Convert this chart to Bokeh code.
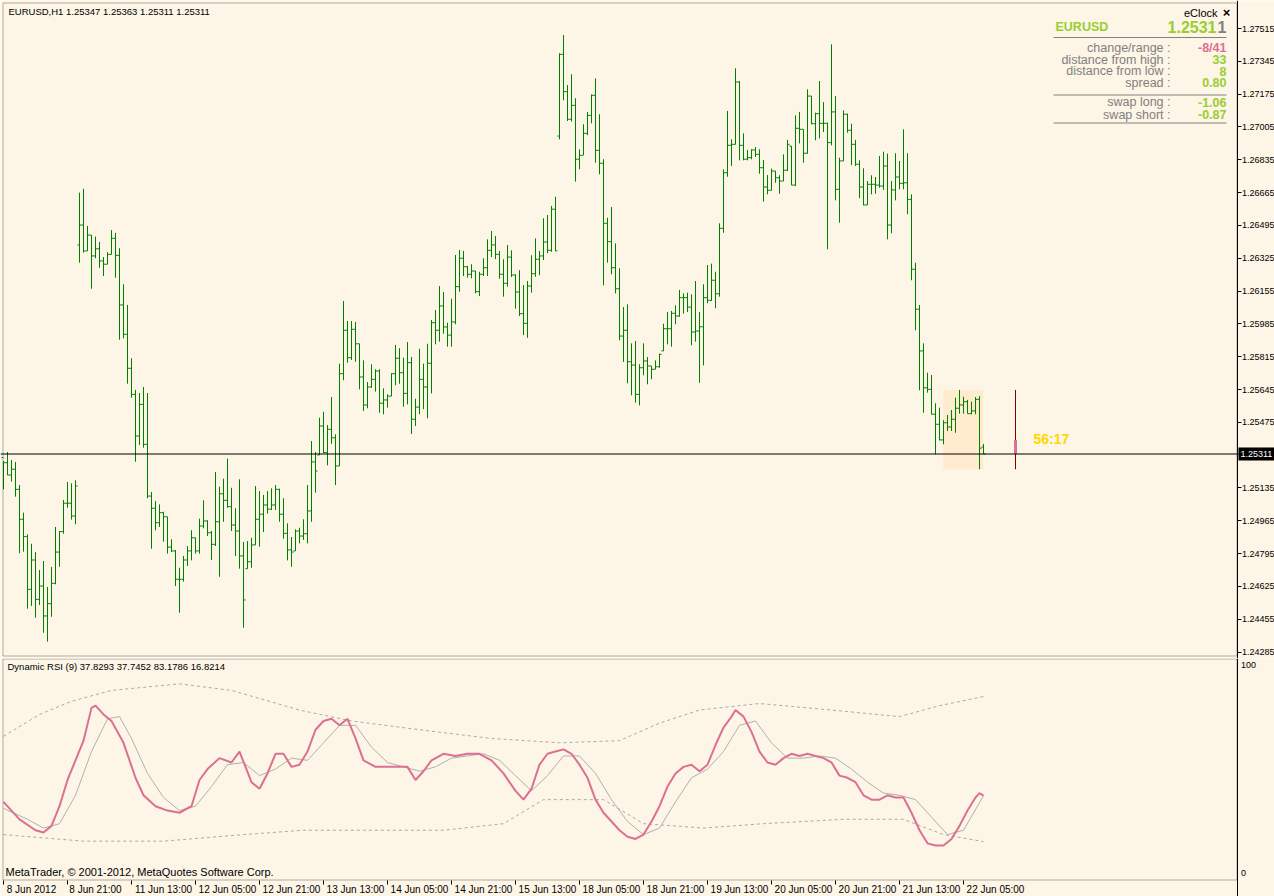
from bokeh.plotting import figure
from bokeh.models import (Range1d, LinearAxis, FixedTicker, Span, Label, BoxAnnotation,
                          ColumnDataSource, PrintfTickFormatter)
from bokeh.layouts import column
from bokeh.embed import file_html
from bokeh.resources import INLINE

# ---------------- data (EURUSD H1, bar index 0 = 8 Jun 2012 05:00) ----------------
OPEN = [
    1.25292, 1.25266, 1.25202, 1.25232, 1.25128, 1.24973, 1.24883, 1.24610, 1.24762, 1.24558,
    1.24627, 1.24472, 1.24536, 1.24641, 1.24803, 1.24909, 1.25056, 1.25056, 1.24990, 1.26394,
    1.26497, 1.26363, 1.26445, 1.26337, 1.26374, 1.26311, 1.26294, 1.26345, 1.26428, 1.26340,
    1.26083, 1.25931, 1.25755, 1.25620, 1.25404, 1.25568, 1.25361, 1.25093, 1.25030, 1.24955,
    1.25007, 1.24986, 1.24829, 1.24809, 1.24662, 1.24662, 1.24762, 1.24809, 1.24877, 1.24809,
    1.24938, 1.24964, 1.24903, 1.24843, 1.24960, 1.25105, 1.25071, 1.25038, 1.24943, 1.24912,
    1.24783, 1.24717, 1.24753, 1.24840, 1.24973, 1.24999, 1.25047, 1.25025, 1.25047, 1.25128,
    1.24999, 1.24900, 1.24814, 1.24809, 1.24912, 1.24886, 1.24898, 1.25016, 1.25270, 1.25306,
    1.25456, 1.25318, 1.25439, 1.25395, 1.25249, 1.25727, 1.25952, 1.25810, 1.25957, 1.25882,
    1.25710, 1.25565, 1.25658, 1.25698, 1.25741, 1.25574, 1.25591, 1.25611, 1.25727, 1.25807,
    1.25732, 1.25625, 1.25784, 1.25491, 1.25554, 1.25698, 1.25658, 1.25781, 1.25991, 1.25952,
    1.26078, 1.25969, 1.25927, 1.25995, 1.26178, 1.26325, 1.26281, 1.26242, 1.26259, 1.26152,
    1.26242, 1.26276, 1.26366, 1.26394, 1.26345, 1.26242, 1.26195, 1.26331, 1.26238, 1.26150,
    1.26038, 1.25988, 1.26181, 1.26245, 1.26320, 1.26337, 1.26409, 1.26366, 1.26579, 1.26958,
    1.27381, 1.27188, 1.27045, 1.27117, 1.26838, 1.26858, 1.26972, 1.27065, 1.27169, 1.26884,
    1.26817, 1.26506, 1.26411, 1.26276, 1.26167, 1.25922, 1.25952, 1.25789, 1.25772, 1.25620,
    1.25758, 1.25793, 1.25767, 1.25750, 1.25763, 1.25845, 1.25960, 1.25960, 1.26040, 1.26026,
    1.26121, 1.26121, 1.26072, 1.25943, 1.25948, 1.25970, 1.26121, 1.26107, 1.26211, 1.26141,
    1.26480, 1.26768, 1.26910, 1.26915, 1.27238, 1.26910, 1.26838, 1.26846, 1.26886, 1.26863,
    1.26794, 1.26694, 1.26677, 1.26777, 1.26742, 1.26725, 1.26781, 1.26906, 1.26704, 1.26998,
    1.26993, 1.26869, 1.27165, 1.27022, 1.27074, 1.27024, 1.27024, 1.26924, 1.27083, 1.26682,
    1.26829, 1.27071, 1.26988, 1.26915, 1.26812, 1.26694, 1.26601, 1.26708, 1.26708, 1.26704,
    1.26699, 1.26803, 1.26497, 1.26679, 1.26746, 1.26713, 1.26716, 1.26630, 1.26268, 1.26061,
    1.25845, 1.25654, 1.25646, 1.25517, 1.25465, 1.25384, 1.25473, 1.25451, 1.25491, 1.25548,
    1.25565, 1.25582, 1.25520, 1.25534, 1.25594, 1.25347,
]
HIGH = [
    1.25275, 1.25321, 1.25280, 1.25270, 1.25150, 1.25007, 1.24895, 1.24846, 1.24803, 1.24710,
    1.24757, 1.24622, 1.24726, 1.24933, 1.24912, 1.25073, 1.25166, 1.25159, 1.25175, 1.26665,
    1.26685, 1.26492, 1.26445, 1.26437, 1.26409, 1.26331, 1.26357, 1.26471, 1.26457, 1.26377,
    1.26190, 1.26083, 1.25807, 1.25643, 1.25627, 1.25658, 1.25627, 1.25114, 1.25068, 1.25050,
    1.25012, 1.24986, 1.24869, 1.24814, 1.24722, 1.24783, 1.24834, 1.24916, 1.24877, 1.24976,
    1.25071, 1.24968, 1.24912, 1.25218, 1.25142, 1.25183, 1.25287, 1.25136, 1.25030, 1.25180,
    1.24855, 1.24860, 1.24877, 1.25145, 1.25119, 1.25099, 1.25119, 1.25133, 1.25150, 1.25131,
    1.25082, 1.24952, 1.24881, 1.24921, 1.24929, 1.24973, 1.25150, 1.25378, 1.25321, 1.25499,
    1.25530, 1.25461, 1.25606, 1.25413, 1.25779, 1.26104, 1.26000, 1.26000, 1.25995, 1.25882,
    1.25796, 1.25684, 1.25776, 1.25750, 1.25750, 1.25651, 1.25620, 1.25729, 1.25876, 1.25859,
    1.25810, 1.25891, 1.25813, 1.25597, 1.25856, 1.25779, 1.25882, 1.26005, 1.26057, 1.26181,
    1.26150, 1.25991, 1.26115, 1.26342, 1.26368, 1.26363, 1.26285, 1.26294, 1.26259, 1.26255,
    1.26325, 1.26423, 1.26466, 1.26440, 1.26363, 1.26320, 1.26394, 1.26366, 1.26242, 1.26263,
    1.26186, 1.26207, 1.26340, 1.26428, 1.26363, 1.26532, 1.26549, 1.26596, 1.26644, 1.27387,
    1.27481, 1.27222, 1.27278, 1.27154, 1.26889, 1.27019, 1.27083, 1.27174, 1.27257, 1.27071,
    1.26838, 1.26535, 1.26590, 1.26402, 1.26273, 1.26072, 1.26086, 1.25884, 1.25896, 1.25776,
    1.25884, 1.25813, 1.25767, 1.25796, 1.25831, 1.25986, 1.26047, 1.26052, 1.26081, 1.26161,
    1.26143, 1.26147, 1.26138, 1.26207, 1.26047, 1.26190, 1.26290, 1.26297, 1.26255, 1.26506,
    1.26786, 1.27088, 1.26941, 1.27309, 1.27243, 1.26972, 1.26886, 1.26889, 1.26901, 1.26889,
    1.26834, 1.26756, 1.26789, 1.26777, 1.26755, 1.26863, 1.26938, 1.26906, 1.27065, 1.27083,
    1.26993, 1.27200, 1.27165, 1.27079, 1.27243, 1.27134, 1.27027, 1.27433, 1.27165, 1.26846,
    1.27091, 1.27074, 1.27022, 1.26938, 1.26832, 1.26791, 1.26725, 1.26755, 1.26746, 1.26855,
    1.26877, 1.26867, 1.26725, 1.26869, 1.26829, 1.26993, 1.26869, 1.26656, 1.26302, 1.26083,
    1.25884, 1.25732, 1.25720, 1.25574, 1.25551, 1.25486, 1.25513, 1.25539, 1.25603, 1.25643,
    1.25608, 1.25591, 1.25582, 1.25606, 1.25611, 1.25363,
]
LOW = [
    1.25128, 1.25202, 1.25168, 1.25090, 1.24797, 1.24805, 1.24510, 1.24524, 1.24463, 1.24529,
    1.24385, 1.24339, 1.24468, 1.24636, 1.24727, 1.24898, 1.25033, 1.24971, 1.24947, 1.26302,
    1.26354, 1.26363, 1.26167, 1.26325, 1.26276, 1.26233, 1.26294, 1.26345, 1.26224, 1.25903,
    1.25910, 1.25675, 1.25603, 1.25271, 1.25358, 1.25344, 1.25082, 1.24820, 1.24916, 1.24933,
    1.24857, 1.24795, 1.24803, 1.24627, 1.24489, 1.24650, 1.24731, 1.24760, 1.24795, 1.24795,
    1.24926, 1.24886, 1.24762, 1.24834, 1.24675, 1.24960, 1.25033, 1.24912, 1.24783, 1.24717,
    1.24411, 1.24717, 1.24722, 1.24840, 1.24831, 1.24907, 1.25002, 1.25021, 1.25021, 1.24960,
    1.24872, 1.24760, 1.24727, 1.24809, 1.24848, 1.24866, 1.24848, 1.24960, 1.25111, 1.25306,
    1.25315, 1.25252, 1.25364, 1.25150, 1.25249, 1.25693, 1.25784, 1.25798, 1.25789, 1.25646,
    1.25534, 1.25548, 1.25654, 1.25634, 1.25525, 1.25517, 1.25551, 1.25611, 1.25667, 1.25675,
    1.25556, 1.25568, 1.25415, 1.25456, 1.25517, 1.25543, 1.25496, 1.25625, 1.25879, 1.25893,
    1.25934, 1.25867, 1.25867, 1.25983, 1.26152, 1.26233, 1.26224, 1.26221, 1.26143, 1.26129,
    1.26233, 1.26233, 1.26331, 1.26320, 1.26219, 1.26126, 1.26178, 1.26228, 1.26064, 1.26026,
    1.25927, 1.25913, 1.26147, 1.26229, 1.26237, 1.26316, 1.26351, 1.26359, 1.26363, 1.26941,
    1.27143, 1.27036, 1.27033, 1.26722, 1.26786, 1.26860, 1.26963, 1.27024, 1.26820, 1.26760,
    1.26185, 1.26302, 1.26242, 1.26143, 1.25900, 1.25788, 1.25677, 1.25615, 1.25577, 1.25563,
    1.25719, 1.25672, 1.25698, 1.25750, 1.25758, 1.25845, 1.25879, 1.25867, 1.25983, 1.26022,
    1.26038, 1.26047, 1.25874, 1.25893, 1.25680, 1.25770, 1.26092, 1.26104, 1.26066, 1.26126,
    1.26457, 1.26747, 1.26803, 1.26915, 1.26832, 1.26832, 1.26832, 1.26838, 1.26849, 1.26763,
    1.26618, 1.26656, 1.26677, 1.26716, 1.26659, 1.26725, 1.26777, 1.26704, 1.26699, 1.26920,
    1.26820, 1.26867, 1.27019, 1.26936, 1.26946, 1.26979, 1.26371, 1.26910, 1.26625, 1.26509,
    1.26829, 1.26975, 1.26807, 1.26803, 1.26636, 1.26599, 1.26601, 1.26656, 1.26659, 1.26690,
    1.26679, 1.26423, 1.26454, 1.26625, 1.26682, 1.26682, 1.26553, 1.26211, 1.25952, 1.25641,
    1.25525, 1.25629, 1.25517, 1.25309, 1.25382, 1.25361, 1.25430, 1.25430, 1.25421, 1.25520,
    1.25520, 1.25520, 1.25517, 1.25517, 1.25232, 1.25311,
]
CLOSE = [
    1.25266, 1.25202, 1.25232, 1.25128, 1.24973, 1.24883, 1.24610, 1.24762, 1.24558, 1.24627,
    1.24472, 1.24536, 1.24641, 1.24803, 1.24909, 1.25056, 1.25056, 1.24990, 1.25145, 1.26497,
    1.26363, 1.26445, 1.26337, 1.26374, 1.26311, 1.26294, 1.26345, 1.26428, 1.26340, 1.26083,
    1.25931, 1.25755, 1.25620, 1.25404, 1.25568, 1.25361, 1.25093, 1.25030, 1.24955, 1.25007,
    1.24986, 1.24829, 1.24809, 1.24662, 1.24662, 1.24762, 1.24809, 1.24877, 1.24809, 1.24938,
    1.24964, 1.24903, 1.24843, 1.24960, 1.25105, 1.25071, 1.25038, 1.24943, 1.24912, 1.24783,
    1.24555, 1.24753, 1.24840, 1.24973, 1.24999, 1.25047, 1.25025, 1.25047, 1.25128, 1.24999,
    1.24900, 1.24814, 1.24803, 1.24912, 1.24886, 1.24898, 1.25016, 1.25270, 1.25223, 1.25456,
    1.25318, 1.25439, 1.25395, 1.25249, 1.25727, 1.25952, 1.25810, 1.25957, 1.25882, 1.25710,
    1.25565, 1.25658, 1.25698, 1.25741, 1.25574, 1.25591, 1.25611, 1.25727, 1.25807, 1.25732,
    1.25625, 1.25784, 1.25491, 1.25554, 1.25698, 1.25658, 1.25781, 1.25991, 1.25952, 1.26078,
    1.25969, 1.25927, 1.25995, 1.26178, 1.26325, 1.26281, 1.26242, 1.26259, 1.26152, 1.26242,
    1.26276, 1.26366, 1.26394, 1.26345, 1.26242, 1.26195, 1.26331, 1.26238, 1.26150, 1.26038,
    1.25988, 1.26181, 1.26245, 1.26320, 1.26337, 1.26409, 1.26366, 1.26579, 1.26363, 1.27381,
    1.27188, 1.27045, 1.27117, 1.26838, 1.26858, 1.26972, 1.27065, 1.27169, 1.26884, 1.26817,
    1.26506, 1.26411, 1.26276, 1.26167, 1.25922, 1.25952, 1.25789, 1.25772, 1.25620, 1.25758,
    1.25793, 1.25767, 1.25750, 1.25763, 1.25827, 1.25960, 1.25960, 1.26040, 1.26026, 1.26121,
    1.26121, 1.26072, 1.25943, 1.25948, 1.25970, 1.26121, 1.26107, 1.26211, 1.26141, 1.26480,
    1.26768, 1.26910, 1.26915, 1.27238, 1.26910, 1.26838, 1.26846, 1.26886, 1.26863, 1.26794,
    1.26694, 1.26677, 1.26777, 1.26742, 1.26725, 1.26781, 1.26915, 1.26704, 1.26998, 1.26993,
    1.26869, 1.27165, 1.27022, 1.27074, 1.27024, 1.27024, 1.26924, 1.27083, 1.26682, 1.26829,
    1.27071, 1.26988, 1.26915, 1.26812, 1.26694, 1.26601, 1.26708, 1.26708, 1.26704, 1.26699,
    1.26803, 1.26497, 1.26679, 1.26746, 1.26713, 1.26716, 1.26630, 1.26268, 1.26061, 1.25845,
    1.25654, 1.25646, 1.25517, 1.25465, 1.25384, 1.25473, 1.25451, 1.25491, 1.25548, 1.25565,
    1.25582, 1.25520, 1.25534, 1.25594, 1.25341, 1.25311,
]

PRICE_TICKS = [1.24285, 1.24455, 1.24625, 1.24795, 1.24965, 1.25135, 1.25475,
               1.25645, 1.25815, 1.25985, 1.26155, 1.26325, 1.26495, 1.26665, 1.26835,
               1.27005, 1.27175, 1.27345, 1.27515]

TIME_TICKS = [0, 16, 32, 48, 64, 80, 96, 112, 128, 144, 160, 176, 192, 208, 224, 240]
TIME_LABELS = ["8 Jun 2012", "8 Jun 21:00", "11 Jun 13:00", "12 Jun 05:00", "12 Jun 21:00",
               "13 Jun 13:00", "14 Jun 05:00", "14 Jun 21:00", "15 Jun 13:00", "18 Jun 05:00",
               "18 Jun 21:00", "19 Jun 13:00", "20 Jun 05:00", "20 Jun 21:00", "21 Jun 13:00",
               "22 Jun 05:00"]

RSI_X = [0, 4, 8, 10, 12, 14, 16, 18, 20, 22, 23, 25, 27, 30, 33, 35, 38, 41, 44, 47,
         49, 51, 54, 57, 59, 62, 64, 66, 68, 70, 72, 74, 76, 78, 80, 82, 84, 86, 88, 90,
         93, 96, 99, 101, 103, 105, 107, 110, 113, 116, 119, 122, 125, 128, 130, 132, 134, 136, 138, 140,
         142, 144, 146, 148, 150, 152, 154, 156, 158, 160, 162, 164, 166, 168, 170, 172, 174, 176, 178, 180,
         182, 183, 185, 187, 189, 191, 193, 195, 197, 199, 201, 203, 205, 207, 209, 211, 213, 215, 217, 219,
         221, 223, 225, 227, 229, 231, 233, 235, 237, 239, 241, 243, 244, 245]
RSI_V = [35, 27, 22, 21, 24, 33, 45, 54, 63, 78, 79, 75, 72, 62, 46, 38, 33, 31, 30, 33,
         45, 50, 55, 53, 58, 44, 41, 48, 57, 57, 51, 52, 58, 68, 72, 73, 70, 73, 64, 54,
         51, 51, 51, 51, 45, 49, 54, 57, 56, 57, 57, 54, 48, 40, 36, 41, 52, 57, 58, 59,
         57, 52, 46, 36, 30, 26, 22, 19, 18, 20, 26, 33, 42, 48, 51, 52, 49, 52, 61, 69,
         74, 77, 74, 67, 58, 53, 52, 55, 57, 56, 57, 56, 55, 53, 47, 46, 44, 38, 36, 36,
         38, 37, 37, 30, 22, 16, 15, 15, 18, 24, 31, 37, 39, 37.8293]
SIG_X = [0, 6, 10, 14, 18, 22, 26, 29, 32, 36, 40, 44, 48, 52, 56, 60, 64, 68, 72, 76,
         80, 84, 88, 92, 96, 100, 104, 108, 112, 116, 120, 124, 128, 132, 136, 140, 144, 148, 152, 156,
         160, 164, 168, 172, 176, 180, 184, 188, 192, 196, 200, 204, 208, 212, 216, 220, 224, 228, 232, 236,
         240, 245]
SIG_V = [32, 27, 23, 25, 38, 58, 73, 74, 64, 48, 37, 31, 33, 42, 52, 53, 47, 50, 55, 54,
         62, 70, 70, 60, 53, 51, 49, 51, 55, 56, 57, 54, 47, 40, 47, 56, 56, 48, 36, 26,
         20, 23, 35, 46, 50, 58, 70, 72, 62, 55, 55, 56, 55, 50, 44, 39, 38, 36, 28, 20,
         22, 37.7452]
UP_X = [0, 9, 17, 27, 44, 57, 74, 87, 104, 122, 139, 154, 164, 174, 189, 207, 224, 234, 245]
UP_V = [65, 75, 81, 86, 89, 86, 77, 72, 68, 64, 62, 63, 71, 77, 80, 77, 74, 79, 83.1786]
LO_X = [0, 20, 40, 60, 75, 90, 110, 125, 135, 150, 160, 175, 190, 210, 225, 235, 245]
LO_V = [20, 17, 17, 20, 22, 22, 22, 25, 36, 36, 25, 23, 25, 27, 27, 20, 16.8214]

# ---------------- styling / layout constants ----------------
BG = "#FDF5E6"
BAR_COLOR = "#008000"
BOX_COLOR = "#FFEBCD"
PINK = "#DB7093"
YG = "#9ACD32"
GRAY = "#808080"
GOLD = "#FFD700"
FONT = "Liberation Sans"

W = 1274
PX_PER_BAR = 4.0
X0 = -0.75                      # bar k sits on page column 3 + 4k
X1 = X0 + W / PX_PER_BAR
PRICE_PER_PX = 0.0000518
H1 = 658
Y1 = 1.2766013                  # price at the top edge of the price pane
Y0 = Y1 - H1 * PRICE_PER_PX
DAY_START = 235                 # first bar of 22 Jun
CANDLE_POS = 253                # where the eClock daily candle is drawn

H2 = 238
RSI_ZERO_PX, RSI_PX_PER_UNIT = 877.8, 2.185     # RSI pane scale (page rows)


def px(page_x):
    return X0 + page_x / PX_PER_BAR


def py(page_y):
    return Y1 - page_y * PRICE_PER_PX


def vy(page_y):
    return (RSI_ZERO_PX - page_y) / RSI_PX_PER_UNIT


X_AXIS = px(1236.5)

n = len(CLOSE)
idx = list(range(n))
src = ColumnDataSource(dict(x=idx, o=OPEN, h=HIGH, l=LOW, c=CLOSE,
                            xl=[i - 0.5 for i in idx], xr=[i + 0.5 for i in idx]))

p = figure(width=W, height=H1, x_range=Range1d(X0, X1), y_range=Range1d(Y0, Y1),
           output_backend="svg", toolbar_location=None,
           x_axis_location=None, y_axis_location=None,
           min_border_left=0, min_border_right=0, min_border_top=0, min_border_bottom=0,
           background_fill_color=BG, border_fill_color=BG, outline_line_color=None)
p.grid.visible = False

pax = LinearAxis(ticker=FixedTicker(ticks=PRICE_TICKS), formatter=PrintfTickFormatter(format="%.5f"),
                 fixed_location=X_AXIS,
                 major_tick_out=4, major_tick_in=0, minor_tick_line_color=None,
                 axis_line_color="black", major_tick_line_color="black",
                 major_label_text_font=FONT, major_label_text_font_size="9px",
                 major_label_text_color="black", major_label_standoff=1)
p.add_layout(pax, "right")

# today's range box
day_hi = max(HIGH[DAY_START:])
day_lo = min(LOW[DAY_START:])
p.quad(left=[DAY_START - 0.075], right=[n - 1 - 0.075], top=[day_hi], bottom=[day_lo],
       fill_color=BOX_COLOR, line_color=None)

# OHLC bars
p.segment("x", "l", "x", "h", source=src, line_color=BAR_COLOR, line_width=1)
p.segment("xl", "o", "x", "o", source=src, line_color=BAR_COLOR, line_width=1)
p.segment("x", "c", "xr", "c", source=src, line_color=BAR_COLOR, line_width=1)

# bid line
p.add_layout(Span(location=CLOSE[-1], dimension="width", line_color="black", line_width=1))

# pane border
p.add_layout(BoxAnnotation(left=px(2.5), right=X_AXIS, top=py(2.5), bottom=py(655.5),
                           fill_color=None, line_color="black", line_width=1))

# eClock daily candle
p.segment(x0=[CANDLE_POS], y0=[day_lo], x1=[CANDLE_POS], y1=[day_hi], line_color="#800000", line_width=1)
p.quad(left=[CANDLE_POS - 0.375], right=[CANDLE_POS + 0.375], top=[OPEN[DAY_START]], bottom=[CLOSE[-1]],
       fill_color=PINK, line_color=None)

p.add_layout(Label(x=px(1033), y=py(438), text="56:17", text_font=FONT, text_font_size="14px",
                   text_font_style="bold", text_color=GOLD, text_baseline="middle"))

# bid tag on the price axis: black box with white text
TAG_HALF = 6.5 * PRICE_PER_PX
p.add_layout(BoxAnnotation(left=px(1238), right=X1, top=CLOSE[-1] + TAG_HALF, bottom=CLOSE[-1] - TAG_HALF,
                           fill_color="black", fill_alpha=1.0, line_color=None, level="overlay"))
p.add_layout(Label(x=px(1240), y=CLOSE[-1], text="%.5f" % CLOSE[-1], text_font=FONT,
                   text_font_size="9px", text_color="white",
                   text_baseline="middle", text_align="left", level="overlay"))

# header
p.add_layout(Label(x=px(8), y=py(11), text="EURUSD,H1  %.5f %.5f %.5f %.5f" % (OPEN[-1], HIGH[-1], LOW[-1], CLOSE[-1]),
                   text_font=FONT, text_font_size="9.5px", text_color="black", text_baseline="middle"))


# eClock panel
def plabel(x, y, text, size, color, bold=False, align="left"):
    p.add_layout(Label(x=x, y=y, text=text, text_font=FONT, text_font_size=size, text_color=color,
                       text_font_style="bold" if bold else "normal", text_baseline="middle",
                       text_align=align))


plabel(px(1217), py(12), "eClock", "11px", "black", align="right")
plabel(px(1226), py(12), "\u00d7", "13px", "black", bold=True, align="center")
plabel(px(1055), py(26), "EURUSD", "12.5px", YG, bold=True)
plabel(px(1216), py(26), "1.2531", "16px", YG, bold=True, align="right")
plabel(px(1226), py(26), "1", "16px", GRAY, bold=True, align="right")
rows = [("change/range :", "-8/41", PINK), ("distance from high :", "33", YG),
        ("distance from low :", "8", YG), ("spread :", "0.80", YG)]
for i, (lab, val, col) in enumerate(rows):
    yy = py(47.5 + i * 11.6)
    plabel(px(1170), yy, lab, "12.5px", GRAY, align="right")
    plabel(px(1226), yy, val, "12.5px", col, bold=True, align="right")
for i, (lab, val) in enumerate([("swap long :", "-1.06"), ("swap short :", "-0.87")]):
    yy = py(101.7 + i * 12.6)
    plabel(px(1170), yy, lab, "12.5px", GRAY, align="right")
    plabel(px(1226), yy, val, "12.5px", YG, bold=True, align="right")
ly = [py(37), py(94.5), py(122.5)]
p.segment(x0=[px(1053)] * 3, y0=ly, x1=[px(1226)] * 3, y1=ly, line_color=GRAY, line_width=1)

# ---------------- RSI pane (frame covers the whole canvas incl. the time scale strip) ----------------
p2 = figure(width=W, height=H2, x_range=p.x_range,
            y_range=Range1d(vy(658 + H2), vy(658)),
            output_backend="svg", toolbar_location=None,
            x_axis_location=None, y_axis_location=None,
            min_border_left=0, min_border_right=0, min_border_top=0, min_border_bottom=0,
            background_fill_color=BG, border_fill_color=BG, outline_line_color=None)
p2.grid.visible = False

p2.line(UP_X, UP_V, line_color="#A9A9A9", line_width=1, line_dash="3 3")
p2.line(LO_X, LO_V, line_color="#A9A9A9", line_width=1, line_dash="3 3")
p2.line(SIG_X, SIG_V, line_color="#B0B0B0", line_width=1)
p2.line(RSI_X, RSI_V, line_color=PINK, line_width=2)

p2.add_layout(BoxAnnotation(left=px(2.5), right=X_AXIS, top=vy(658.5), bottom=vy(879.5),
                            fill_color=None, line_color="black", line_width=1))

tick_axis = LinearAxis(ticker=FixedTicker(ticks=TIME_TICKS), fixed_location=vy(879.5),
                       major_label_text_font_size="1px", major_label_text_color=None,
                       major_tick_out=4, major_tick_in=0, minor_tick_line_color=None,
                       axis_line_color=None, major_tick_line_color="black", major_label_standoff=0)
lab_pos = [t + (7 if i < 2 else 8) for i, t in enumerate(TIME_TICKS)]
label_axis = LinearAxis(ticker=FixedTicker(ticks=lab_pos), fixed_location=vy(879.5),
                        major_label_overrides={lp: lab for lp, lab in zip(lab_pos, TIME_LABELS)},
                        major_tick_out=0, major_tick_in=0, minor_tick_line_color=None,
                        axis_line_color=None, major_tick_line_color=None,
                        major_label_text_font=FONT, major_label_text_font_size="10px",
                        major_label_text_color="black", major_label_standoff=4)
p2.add_layout(tick_axis, "below")
p2.add_layout(label_axis, "below")

RSI_AXIS_TICKS = [97.4, 2.6]
rax = LinearAxis(ticker=FixedTicker(ticks=RSI_AXIS_TICKS), fixed_location=X_AXIS,
                 major_label_overrides={RSI_AXIS_TICKS[0]: "100", RSI_AXIS_TICKS[1]: "0"},
                 major_tick_out=0, major_tick_in=0, minor_tick_line_color=None,
                 axis_line_color="black", major_tick_line_color=None,
                 major_label_text_font=FONT, major_label_text_font_size="9px",
                 major_label_text_color="black", major_label_standoff=4)
p2.add_layout(rax, "right")

p2.add_layout(Label(x=px(7), y=vy(666),
                    text="Dynamic RSI (9) %.4f %.4f %.4f %.4f" % (RSI_V[-1], SIG_V[-1], UP_V[-1], LO_V[-1]),
                    text_font=FONT, text_font_size="9.5px", text_color="black", text_baseline="middle"))
p2.add_layout(Label(x=px(5), y=vy(871), text="MetaTrader, \u00a9 2001-2012, MetaQuotes Software Corp.",
                    text_font=FONT, text_font_size="11px", text_color="black", text_baseline="middle"))

layout = column(p, p2)
open("out.html", "w").write(file_html(layout, INLINE, title="EURUSD,H1"))
